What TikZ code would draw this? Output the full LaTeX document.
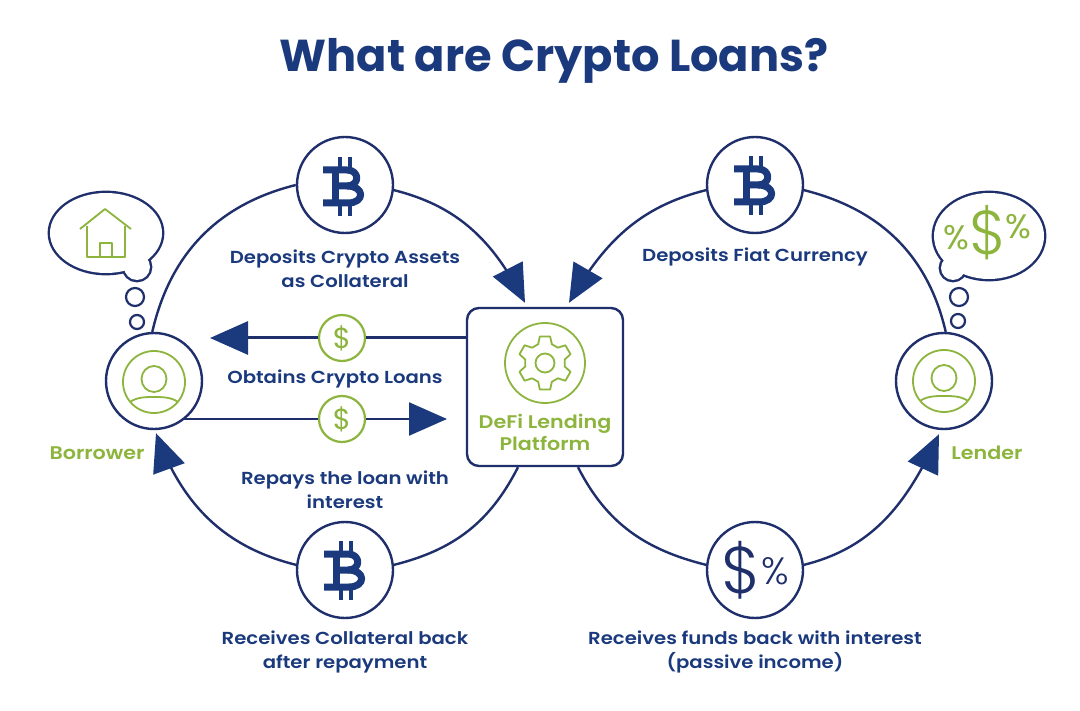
\documentclass[tikz,border=0pt]{standalone}
\usepackage{fontspec}
\setmainfont{Poppins}
\newfontfamily\thinf{Poppins Light}
\newfontfamily\labf{Poppins SemiBold}[FakeStretch=1.13]
\usetikzlibrary{arrows.meta,calc,bending}
\definecolor{navy}{HTML}{1B3A7D}
\definecolor{inkline}{HTML}{1F2F6B}
\definecolor{leaf}{HTML}{8DB53E}
\tikzset{
  ring/.style={circle,draw=inkline,line width=2.4pt,minimum size=96pt,inner sep=0pt,fill=white},
  coin/.style={circle,draw=leaf,line width=2.2pt,minimum size=46pt,inner sep=0pt,fill=white,text=leaf,font=\fontsize{29}{29}\selectfont},
  flow/.style={draw=inkline,line width=2.4pt},
  bigtip/.style={flow,-{Triangle[length=38pt,width=33pt,flex=0,fill=navy,color=navy]}},
  lab/.style={text=navy,font=\labf\fontsize{17.4}{24.3}\selectfont,align=center,inner sep=0pt},
  glab/.style={text=leaf,font=\labf\fontsize{18.3}{22}\selectfont,align=center,inner sep=0pt},
  gline/.style={draw=leaf,line width=1.8pt,line join=round},
  bline/.style={draw=inkline,line width=2.4pt},
  pics/btc/.style={code={
    \draw[navy,line width=7pt,line join=round] (-21,-16) -- (3,-16) .. controls (16,-16) and (16,0) .. (3,0) -- (-9,0);
    \draw[navy,line width=7pt,line join=round] (3,0) .. controls (21,0) and (21,17) .. (4,17) -- (-21,17);
    \draw[navy,line width=7pt] (-9,-16) -- (-9,17);
    \draw[navy,line width=4.5pt] (-4,-29) -- (-4,-16) (6,-29) -- (6,-16) (-4,17) -- (-4,30) (6,17) -- (6,30);
  }},
  pics/person/.style={code={
    \draw[gline] (0,0) circle (31);
    \draw[gline] (0,-3) ellipse (12.5 and 13);
    \draw[gline] (-24,20) .. controls (-17,15) and (-8,15) .. (0,15) .. controls (8,15) and (17,15) .. (24,20);
  }},
}
\begin{document}
\begin{tikzpicture}[x=1pt,y=-1pt]
\useasboundingbox (0,0) rectangle (1080,711);
\fill[white] (0,0) rectangle (1080,711);

\node[text=navy,font=\bfseries\fontsize{44.7}{44.7}\selectfont,inner sep=0pt] (title) at (554,61) {What are Crypto Loans?};

% main nodes
\node[draw=inkline,line width=2.4pt,rounded corners=12pt,minimum width=156pt,minimum height=158pt,inner sep=0pt,fill=white] (box) at (545,387) {};
\node[ring] (bor) at (154,381) {};
\node[ring] (len) at (944,381) {};
\node[ring] (b1) at (345,185) {};
\node[ring] (b2) at (755,185) {};
\node[ring] (b3) at (345,570) {};
\node[ring] (b4) at (755,570) {};
\node[coin] (c1) at (342,338) {\$};
\node[coin] (c2) at (342,419) {\$};

\coordinate (tipL) at ([xshift=-20pt,yshift=4pt]box.north);
\coordinate (tipR) at ([xshift=24pt,yshift=4pt]box.north);
\coordinate (botL) at ([xshift=-27pt]box.south);
\coordinate (botR) at ([xshift=33pt]box.south);
\coordinate (tipB) at ([xshift=2pt,yshift=-3pt]bor.south);
\coordinate (tipE) at ([xshift=-5pt,yshift=-4pt]len.south);
\coordinate (tipC1) at (210,338);
\coordinate (tipC2) at (447,419);

% connectors
\draw[flow] (bor.92) to[out=77,in=194] (b1.west);
\draw[bigtip] (b1.-6) to[out=-14,in=117] (tipL);
\draw[bigtip] (b2.186) to[out=194,in=60] (tipR);
\draw[flow] (b2.-6) to[out=-14,in=103] (len.88);
\draw[flow] (botL) to[out=243,in=14] (b3.6);
\draw[bigtip] (b3.174) to[out=166,in=-70] (tipB);
\draw[flow] (botR) to[out=-63,in=166] (b4.174);
\draw[bigtip] (b4.6) to[out=14,in=-115] (tipE);
\draw[flow,line width=3pt] (box.west |- c1) -- (c1.east);
\draw[bigtip,line width=3pt] (c1.west) -- (tipC1);
\draw[flow] (bor.-52 |- c2) -- (c2.west);
\draw[bigtip] (c2.east) -- (tipC2);

% icons in rings
\pic at (344,186) {btc};
\pic at (755,185) {btc};
\pic at (345,570) {btc};
\pic at (154,382) {person};
\pic at (944,381) {person};
\node[text=inkline,font=\thinf\fontsize{66}{66}\selectfont,inner sep=0pt] (dollar) at (741,570) {\$};
\node[text=inkline,font=\thinf\fontsize{38}{38}\selectfont,inner sep=0pt] (pct) at (775,571) {\%};

% platform
\draw[gline] (545,363) circle (40);
\draw[gline] (545,363) circle (9.5);
\begin{scope}[shift={(545,363)}]
  \draw[gline] (70:20)
    \foreach \a in {90,150,210,270,330,30} {
      -- (\a-20:20) -- (\a-11:27) -- (\a+11:27) -- (\a+20:20)
    } -- cycle;
\end{scope}
\node[glab] (plat) at (545,432) {DeFi Lending\\Platform};

% bubbles
\begin{scope}
  \draw[bline,line width=4.8pt] (106,233) ellipse (56 and 40);
  \draw[bline,line width=4.8pt] (137,267) circle (13);
  \fill[white] (106,233) ellipse (56 and 40);
  \fill[white] (137,267) circle (13);
  \draw[bline,line width=4.8pt] (989,236) ellipse (55 and 43);
  \draw[bline,line width=4.8pt] (953,268) circle (12);
  \fill[white] (989,236) ellipse (55 and 43);
  \fill[white] (953,268) circle (12);
\end{scope}
\node[circle,draw=inkline,line width=2.2pt,minimum size=18pt,inner sep=0pt] (t1) at (135,297) {};
\node[circle,draw=inkline,line width=2.2pt,minimum size=14pt,inner sep=0pt] (t2) at (137,322) {};
\node[circle,draw=inkline,line width=2.2pt,minimum size=18pt,inner sep=0pt] (t3) at (959,297) {};
\node[circle,draw=inkline,line width=2.2pt,minimum size=14pt,inner sep=0pt] (t4) at (958,321) {};
\draw[gline] (80,229) -- (105,209) -- (131,229);
\draw[gline] (87,226) -- (87,257) -- (125,257) -- (125,226);
\draw[gline] (100,257) -- (100,243) -- (112,243) -- (112,257);
\node[text=leaf,font=\fontsize{34}{34}\selectfont,inner sep=0pt] (p1) at (956,238) {\%};
\node[text=leaf,font=\thinf\fontsize{62}{62}\selectfont,inner sep=0pt] (d1) at (988,233) {\$};
\node[text=leaf,font=\fontsize{34}{34}\selectfont,inner sep=0pt] (p2) at (1018,227) {\%};

% labels
\node[lab] (l1) at (345,269) {Deposits Crypto Assets\\as Collateral};
\node[lab] (l2) at (335,379) {Obtains Crypto Loans};
\node[lab] (l3) at (345,490) {Repays the loan with\\interest};
\node[lab] (l4) at (345,652) {Receives Collateral back\\after repayment};
\node[lab] (l5) at (755,257) {Deposits Fiat Currency};
\node[lab] (l6) at (755,652) {Receives funds back with interest\\(passive income)};
\node[glab] (l7) at (97,453) {Borrower};
\node[glab] (l8) at (987,453) {Lender};
\end{tikzpicture}
\end{document}
